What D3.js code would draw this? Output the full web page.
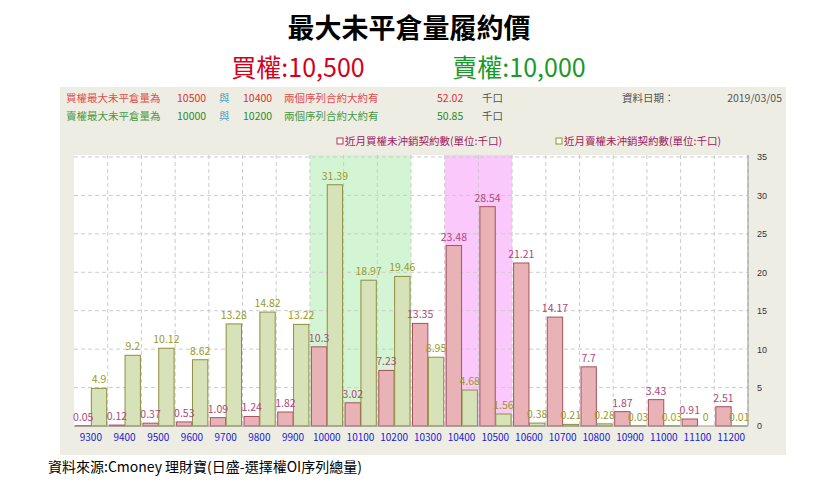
<!DOCTYPE html><html><head><meta charset="utf-8"><script src="https://cdn.jsdelivr.net/npm/d3@7"></script>
<style>body{margin:0;background:#fff;font-family:"Noto Sans CJK TC","Noto Sans",sans-serif}</style></head><body><svg id="c" width="819" height="486"></svg>
<script>
const categories=["9300","9400","9500","9600","9700","9800","9900","10000","10100","10200","10300","10400","10500","10600","10700","10800","10900","11000","11100","11200"];
const callOI=[0.05,0.12,0.37,0.53,1.09,1.24,1.82,10.3,3.02,7.23,13.35,23.48,28.54,21.21,14.17,7.7,1.87,3.43,0.91,2.51];
const putOI=[4.9,9.2,10.12,8.62,13.28,14.82,13.22,31.39,18.97,19.46,8.95,4.68,1.56,0.38,0.21,0.28,0.03,0.03,0,0.01];
const yTicks=[0,5,10,15,20,25,30,35];
const putBand=["10000","10200"], callBand=["10400","10500"];
const svg=d3.select("#c");
const F='"Noto Sans CJK TC",sans-serif';
svg.append("text").attr("x",409).attr("y",38).attr("text-anchor","middle").attr("font-size",27).attr("font-weight","bold").attr("font-family",F).text("最大未平倉量履約價");
svg.append("text").attr("x",298).attr("y",77).attr("text-anchor","middle").attr("font-size",25).attr("fill","#d4001c").attr("font-family",F).text("買權:10,500");
svg.append("text").attr("x",519).attr("y",77).attr("text-anchor","middle").attr("font-size",25).attr("fill","#1a9a2a").attr("font-family",F).text("賣權:10,000");
svg.append("rect").attr("x",60).attr("y",87).attr("width",726).attr("height",368).attr("fill","#eeede4");
const info=svg.append("g").attr("font-size",10.5).attr("font-family",F);
function line(y,col,label,a,b,v){
 info.append("text").attr("x",66).attr("y",y).attr("fill",col).attr("opacity",0.85).text(label);
 info.append("text").attr("x",177).attr("y",y).attr("fill",col).text(a);
 info.append("text").attr("x",219).attr("y",y).attr("fill","#4aa0c0").text("與");
 info.append("text").attr("x",243).attr("y",y).attr("fill",col).text(b);
 info.append("text").attr("x",284).attr("y",y).attr("fill",col).attr("opacity",0.85).text("兩個序列合約大約有");
 info.append("text").attr("x",437).attr("y",y).attr("fill",col).text(v);
 info.append("text").attr("x",482).attr("y",y).attr("fill","#555").text("千口");
}
line(102,"#e03030","買權最大未平倉量為","10500","10400","52.02");
line(120,"#2a8a2a","賣權最大未平倉量為","10000","10200","50.85");
info.append("text").attr("x",622).attr("y",102).attr("fill","#555").text("資料日期：");
info.append("text").attr("x",782).attr("y",102).attr("text-anchor","end").attr("fill","#555").text("2019/03/05");
const lg=svg.append("g").attr("font-size",10.5).attr("font-family",F);
lg.append("rect").attr("x",337).attr("y",138).attr("width",6).attr("height",6).attr("fill","#fff").attr("stroke","#c03050");
lg.append("text").attr("x",345).attr("y",145).attr("fill","#a02060").text("近月買權未沖銷契約數(單位:千口)");
lg.append("rect").attr("x",556).attr("y",138).attr("width",6).attr("height",6).attr("fill","#fff").attr("stroke","#8a9a20");
lg.append("text").attr("x",564).attr("y",145).attr("fill","#a02060").text("近月賣權未沖銷契約數(單位:千口)");
const L=74,R=748,T=155,B=426;
const x=d3.scaleBand().domain(categories).range([L,R]);
const y=d3.scaleLinear().domain([0,35]).range([B,157]);
svg.append("rect").attr("x",L).attr("y",T).attr("width",R-L).attr("height",B-T).attr("fill","#fff");
svg.append("rect").attr("x",x(putBand[0])).attr("y",T).attr("width",x(putBand[1])+x.bandwidth()-x(putBand[0])).attr("height",B-T).attr("fill","#d3f5d3");
svg.append("rect").attr("x",x(callBand[0])).attr("y",T).attr("width",x(callBand[1])+x.bandwidth()-x(callBand[0])).attr("height",B-T).attr("fill","#fbc8fb");
const g=svg.append("g");
categories.forEach(c=>g.append("line").attr("x1",x(c)+x.bandwidth()).attr("x2",x(c)+x.bandwidth()).attr("y1",T).attr("y2",B).attr("stroke","#ccc").attr("stroke-dasharray","4,3"));
yTicks.slice(1).forEach(t=>g.append("line").attr("x1",L).attr("x2",R).attr("y1",y(t)).attr("y2",y(t)).attr("stroke","#ccc").attr("stroke-dasharray","4,3"));
const bw=x.bandwidth()/2-1.5;
svg.selectAll(".cb").data(categories).enter().append("rect").attr("x",c=>x(c)+1.5).attr("y",(c,i)=>y(callOI[i])).attr("width",bw).attr("height",(c,i)=>B-y(callOI[i])).attr("fill","#e8b2b6").attr("stroke","#a85060");
svg.selectAll(".pb").data(categories).enter().append("rect").attr("x",c=>x(c)+x.bandwidth()/2+0.5).attr("y",(c,i)=>y(putOI[i])).attr("width",bw).attr("height",(c,i)=>B-y(putOI[i])).attr("fill","#d8e2b8").attr("stroke","#8a9040");
svg.selectAll(".cl").data(categories).enter().append("text").attr("x",c=>x(c)+1.5+bw/2).attr("y",(c,i)=>y(callOI[i])-5).attr("text-anchor","middle").attr("font-size",10.5).attr("font-family",F).attr("fill","#b04878").text((c,i)=>callOI[i]);
svg.selectAll(".pl").data(categories).enter().append("text").attr("x",c=>x(c)+x.bandwidth()/2+0.5+bw/2).attr("y",(c,i)=>y(putOI[i])-5).attr("text-anchor","middle").attr("font-size",10.5).attr("font-family",F).attr("fill","#9a9a28").text((c,i)=>putOI[i]);
svg.append("line").attr("x1",L).attr("x2",R).attr("y1",B).attr("y2",B).attr("stroke","#999");
svg.append("line").attr("x1",R).attr("x2",R).attr("y1",T).attr("y2",B).attr("stroke","#999");
const ya=svg.append("g").attr("transform",`translate(${R},0)`).call(d3.axisRight(y).tickValues(yTicks).tickSize(0).tickPadding(9));
ya.select(".domain").remove();ya.selectAll("text").attr("font-size",9).attr("fill","#333");
const xa=svg.append("g").attr("transform",`translate(0,${B})`).call(d3.axisBottom(x).tickSize(0).tickPadding(8));
xa.select(".domain").remove();xa.selectAll("text").attr("font-size",10).attr("fill","#2020d0").attr("font-family",F);
svg.append("text").attr("x",48).attr("y",472).attr("font-size",14).attr("font-family",F).text("資料來源:Cmoney 理財寶(日盛-選擇權OI序列總量)");
</script></body></html>
